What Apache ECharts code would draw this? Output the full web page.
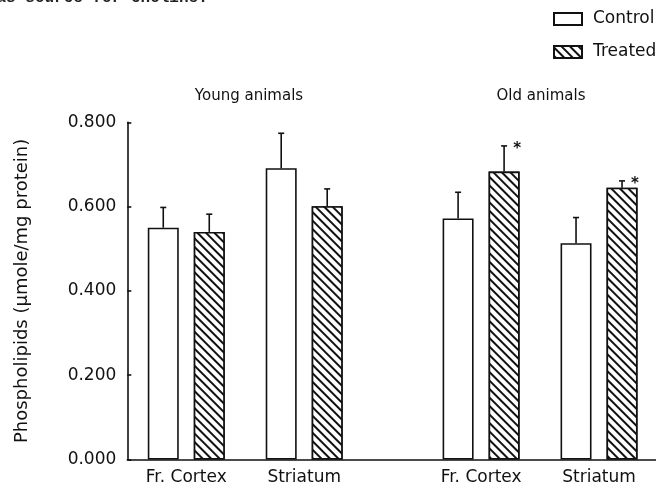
<!DOCTYPE html>
<html>
<head>
<meta charset="utf-8">
<style>
  html, body { margin: 0; padding: 0; background: #fff; }
  #chart { width: 656px; height: 484px; }
</style>
<script src="https://cdn.jsdelivr.net/npm/echarts@6/dist/echarts.min.js"></script>
</head>
<body>
<div id="chart"></div>
<script>
// Brain regions, in drawing order (two per age group)
const regions = ['Fr. Cortex', 'Striatum', 'Fr. Cortex', 'Striatum'];
const ageGroups = ['Young animals', 'Old animals'];

// Mean phospholipid content (µmole/mg protein) and SEM
const control    = [0.550, 0.691, 0.572, 0.513];
const controlSem = [0.048, 0.083, 0.062, 0.061];
const treated    = [0.540, 0.601, 0.683, 0.645];
const treatedSem = [0.042, 0.041, 0.061, 0.016];
// Significant difference vs. control
const significant = [false, false, true, true];

const yTicks = [0, 0.2, 0.4, 0.6, 0.8];

// Slot layout on the category axis: empty slots space the pairs apart
const slotOf = [1, 3, 6, 8];
const slotCount = 10;
const slots = new Array(slotCount).fill('');
regions.forEach((r, i) => { slots[slotOf[i]] = r; });

function toSlots(values) {
  const out = new Array(slotCount).fill('-');
  values.forEach((v, i) => { out[slotOf[i]] = v; });
  return out;
}

const BAR_W = 31;
const GAP_PX = 15;
const OFFSET = (BAR_W + GAP_PX) / 2;
const INK = '#111';
const FONT = '"DejaVu Sans", sans-serif';

// Diagonal hatching running top-left to bottom-right
const hatch = {
  symbol: 'rect',
  symbolSize: 1,
  dashArrayX: [[1, 0]],
  dashArrayY: [2, 3.7],
  rotation: Math.PI / 4,
  color: INK,
  backgroundColor: '#fff'
};

function errData(means, sems, stars) {
  return means.map((m, i) => [slotOf[i], m + sems[i], m, stars ? (stars[i] ? 1 : 0) : 0]);
}

function errRender(side) {
  return function (params, api) {
    const slot = api.value(0);
    const top = api.coord([slot, api.value(1)]);
    const base = api.coord([slot, api.value(2)]);
    const x = top[0] + side * OFFSET;
    const children = [
      { type: 'line', shape: { x1: x, y1: base[1], x2: x, y2: top[1] },
        style: { stroke: INK, lineWidth: 1.6 } },
      { type: 'line', shape: { x1: x - 3, y1: top[1], x2: x + 3, y2: top[1] },
        style: { stroke: INK, lineWidth: 1.6 } }
    ];
    if (api.value(3)) {
      children.push({ type: 'text', style: {
        text: '*', x: x + 13, y: top[1] + 3, textAlign: 'center', textVerticalAlign: 'middle',
        font: 'bold 15px ' + FONT, fill: INK } });
    }
    return { type: 'group', children };
  };
}

const chart = echarts.init(document.getElementById('chart'), null, { renderer: 'canvas' });

chart.setOption({
  animation: false,
  backgroundColor: '#fff',
  grid: { left: 127.3, right: -2, top: 122.3, bottom: 24.5, containLabel: false,
    outerBoundsMode: 'none' },
  legend: {
    data: ['Control', 'Treated'],
    orient: 'vertical',
    left: 553,
    top: 9,
    padding: 0,
    icon: 'rect',
    itemWidth: 28,
    itemHeight: 12,
    itemGap: 13,
    textStyle: { fontFamily: FONT, fontSize: 17, lineHeight: 20, color: INK, padding: [0, 0, 0, 6] }
  },
  xAxis: {
    type: 'category',
    data: slots,
    boundaryGap: false,
    axisLine: { lineStyle: { color: INK, width: 1.6 } },
    axisTick: { show: false },
    axisLabel: { interval: 0, margin: 10, color: INK, fontFamily: FONT, fontSize: 17 },
    splitLine: { show: false }
  },
  yAxis: {
    type: 'value',
    min: 0,
    max: yTicks[yTicks.length - 1],
    interval: yTicks[1] - yTicks[0],
    name: 'Phospholipids (\u03bcmole/mg protein)',
    nameLocation: 'middle',
    nameRotate: 90,
    nameGap: 96,
    nameTextStyle: { fontFamily: FONT, fontSize: 18, color: INK },
    axisLine: { show: true, lineStyle: { color: INK, width: 1.6 } },
    axisTick: { show: true, inside: true, length: 4, lineStyle: { color: INK, width: 1.6 } },
    axisLabel: { margin: 11, color: INK, fontFamily: FONT, fontSize: 17,
      formatter: v => v.toFixed(3) },
    splitLine: { show: false }
  },
  graphic: [
    { type: 'text', style: { text: 'as source for choline.', x: -3.5, y: 6,
      textAlign: 'left', textVerticalAlign: 'bottom',
      font: 'bold 16px "Liberation Mono", monospace', fill: '#222' } },
    { type: 'text', style: { text: ageGroups[0], x: 249, y: 96, textAlign: 'center',
      textVerticalAlign: 'middle', font: '15px ' + FONT, fill: INK } },
    { type: 'text', style: { text: ageGroups[1], x: 541, y: 96, textAlign: 'center',
      textVerticalAlign: 'middle', font: '15px ' + FONT, fill: INK } }
  ],
  series: [
    {
      name: 'Control',
      type: 'bar',
      data: toSlots(control),
      barWidth: BAR_W,
      barGap: (GAP_PX / BAR_W * 100).toFixed(1) + '%',
      itemStyle: { color: '#fff', borderColor: INK, borderWidth: 1.6 },
      z: 2
    },
    {
      name: 'Treated',
      type: 'bar',
      data: toSlots(treated),
      barWidth: BAR_W,
      itemStyle: { color: '#fff', borderColor: INK, borderWidth: 1.6, decal: hatch },
      z: 2
    },
    {
      type: 'custom',
      renderItem: errRender(-1),
      data: errData(control, controlSem),
      encode: { x: 0, y: 1 },
      z: 3,
      silent: true
    },
    {
      type: 'custom',
      renderItem: errRender(1),
      data: errData(treated, treatedSem, significant),
      encode: { x: 0, y: 1 },
      z: 3,
      silent: true
    }
  ]
});
</script>
</body>
</html>
